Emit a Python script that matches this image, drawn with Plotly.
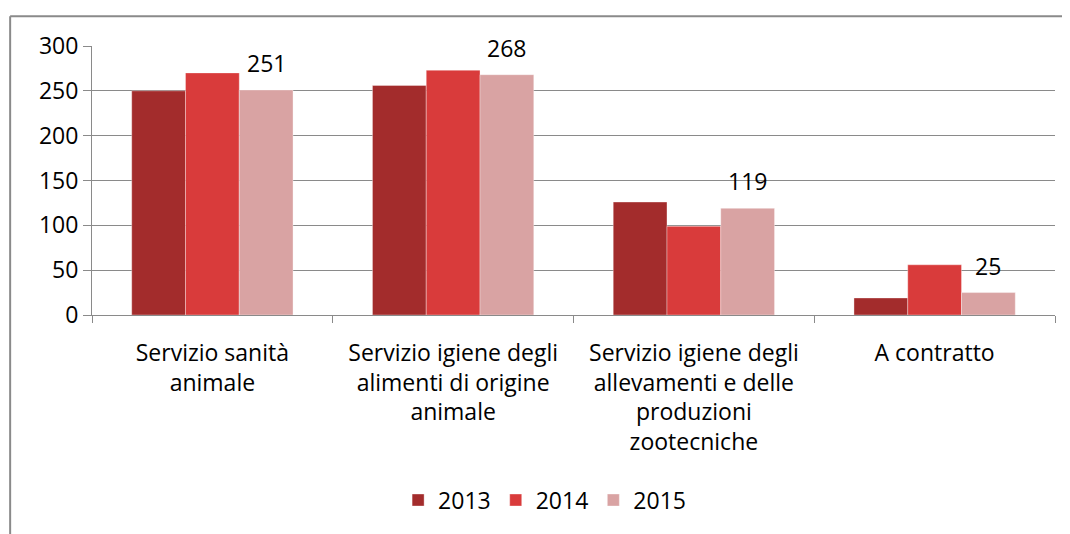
import plotly.graph_objects as go

categories = [
    "Servizio sanità<br>animale",
    "Servizio igiene degli<br>alimenti di origine<br>animale",
    "Servizio igiene degli<br>allevamenti e delle<br>produzioni<br>zootecniche",
    "A contratto",
]
years = ["2013", "2014", "2015"]
values_2013 = [250, 256, 126, 19]
values_2014 = [270, 273, 99, 56]
values_2015 = [251, 268, 119, 25]
y_ticks = [0, 50, 100, 150, 200, 250, 300]

colors = ["#a32c2c", "#d93b3b", "#d9a3a3"]
series = [values_2013, values_2014, values_2015]

FONT = "Open Sans"
FS = 23
W, H = 1070, 534
M = dict(l=84, r=23, t=38, b=227)
BARGAP = 0.33

fig = go.Figure()
for name, vals, col in zip(years, series, colors):
    fig.add_trace(go.Bar(
        x=categories, y=vals, name=name,
        marker=dict(color=col, line=dict(color="rgba(255,255,255,0.35)", width=1)),
    ))

# data labels for 2015 series, placed above the third bar of each group
plot_w = W - M["l"] - M["r"]
bar_w = plot_w / len(categories) * (1 - BARGAP) / 3
for cat, v in zip(categories, values_2015):
    fig.add_annotation(
        x=cat, y=v, text=str(v), showarrow=False,
        xshift=bar_w, yshift=27, yanchor="middle",
        font=dict(family=FONT, size=FS, color="#000000"),
    )

# outer chart frame (only left and top edges visible in the crop)
frame = dict(color="#8a8a8a", width=2)
fig.add_shape(type="line", xref="paper", yref="paper",
              x0=-0.085, x1=-0.085, y0=-1.3, y1=1.111, line=frame, layer="below")
fig.add_shape(type="line", xref="paper", yref="paper",
              x0=-0.085, x1=1.3, y0=1.111, y1=1.111, line=frame, layer="below")

fig.update_layout(
    width=W, height=H, margin=M,
    barmode="group", bargap=BARGAP, bargroupgap=0,
    plot_bgcolor="white", paper_bgcolor="white",
    font=dict(family=FONT, size=FS, color="#000000"),
    showlegend=True,
    legend=dict(
        orientation="h", x=0.47, xanchor="center", y=-0.688, yanchor="middle",
        font=dict(family=FONT, size=FS, color="#000000"),
        itemwidth=30, traceorder="normal",
    ),
    xaxis=dict(
        showline=True, linecolor="#8a8a8a", linewidth=1,
        ticks="outside", tickson="boundaries", ticklen=7, tickcolor="#8a8a8a",
        showgrid=False, tickfont=dict(family=FONT, size=FS, color="#000000"),
        ticklabelstandoff=17,
    ),
    yaxis=dict(
        range=[0, 300], tickvals=y_ticks, ticktext=[str(t) for t in y_ticks],
        showline=True, linecolor="#8a8a8a", linewidth=1,
        ticks="outside", ticklen=8, tickcolor="#8a8a8a",
        showgrid=True, gridcolor="#8a8a8a", gridwidth=1,
        zeroline=False, tickfont=dict(family=FONT, size=FS, color="#000000"),
    ),
)

fig.write_html("out.html")
